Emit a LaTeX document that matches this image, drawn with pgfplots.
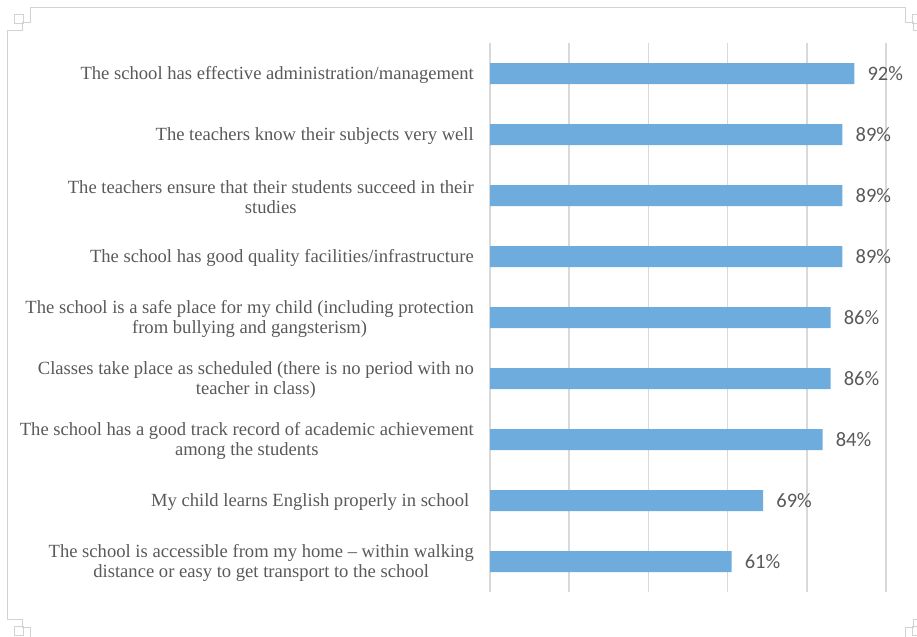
\documentclass[border=0pt]{standalone}
\usepackage{fontspec}
\setmainfont{Liberation Serif}
\newfontfamily\valfont{Carlito}
\usepackage{pgfplots}
\pgfplotsset{compat=1.18}

\definecolor{barblue}{RGB}{111,172,222}
\definecolor{txtgray}{RGB}{89,89,89}
\definecolor{gridgray}{RGB}{217,217,217}
\definecolor{framegray}{RGB}{210,210,210}

\begin{document}
\begin{tikzpicture}
\useasboundingbox (0,0) rectangle (917bp,637bp);

% page frame with notched corners (image coordinates, y down)
\begin{scope}[shift={(0,637bp)}, x=1bp, y=-1bp, draw=framegray, line width=0.8bp]
  \draw (30,7) -- (905,7);
  \draw (7,30) -- (7,619);
  \draw (30,7) -- (30,22) -- (22,22) -- (22,30) -- (7,30);
  \draw (14,14) rectangle (23,23);
  \draw (905,7) -- (905,22) -- (913,22) -- (913,30) -- (928,30);
  \draw (912,14) rectangle (921,23);
  \draw (7,619) -- (22,619) -- (22,627) -- (30,627) -- (30,642);
  \draw (14,626) rectangle (23,635);
  \draw (928,619) -- (913,619) -- (913,627) -- (905,627) -- (905,642);
  \draw (912,626) rectangle (921,635);
\end{scope}

\begin{axis}[
  at={(490bp,45bp)}, anchor=south west,
  scale only axis,
  width=396bp, height=549bp,
  xbar, bar width=21bp,
  xmin=0, xmax=100,
  ymin=-0.5, ymax=8.5,
  axis line style={draw=none},
  major tick length=0pt,
  xtick={0,20,...,100},
  xticklabels={},
  xmajorgrids,
  grid style={gridgray, line width=1.5bp},
  ytick={0,...,8},
  yticklabels={
    {The school is accessible from my home -- within walking\\distance or easy to get transport to the school},
    {My child learns English properly in school\hspace*{4.5bp}},
    {The school has a good track record of academic achievement\\among the students},
    {Classes take place as scheduled (there is no period with no\\teacher in class)},
    {The school is a safe place for my child (including protection\\from bullying and gangsterism)},
    {The school has good quality facilities/infrastructure},
    {The teachers ensure that their students succeed in their\\studies},
    {The teachers know their subjects very well},
    {The school has effective administration/management}
  },
  yticklabel style={anchor=east, inner sep=0pt, xshift=-16bp, yshift=-1.5bp,
    align=center, font=\fontsize{18.6bp}{19.5bp}\selectfont, text=txtgray},
  nodes near coords={\pgfmathprintnumber[assume math mode=true]{\pgfplotspointmeta}\%},
  nodes near coords style={anchor=west, inner sep=0pt, xshift=13bp,
    font=\valfont\fontsize{20.5bp}{23bp}\selectfont, text=txtgray},
]
\addplot[fill=barblue, draw=none] coordinates {
  (61,0) (69,1) (84,2) (86,3) (86,4) (89,5) (89,6) (89,7) (92,8)
};
\end{axis}
\end{tikzpicture}
\end{document}
